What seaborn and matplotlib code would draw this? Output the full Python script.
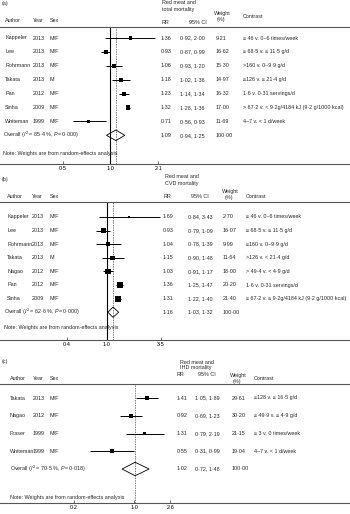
import numpy as np
import pandas as pd
import seaborn as sns
import matplotlib
matplotlib.use('Agg')
import matplotlib.pyplot as plt
from matplotlib.transforms import blended_transform_factory

sns.set_style("white")
plt.rcParams['font.family'] = ['Liberation Sans', 'DejaVu Sans']
plt.rcParams['mathtext.fontset'] = 'custom'
plt.rcParams['mathtext.rm'] = 'Liberation Sans'
plt.rcParams['mathtext.it'] = 'Liberation Sans:italic'

# (a) red meat and total mortality
a_author = ['Kappeler', 'Lee', 'Rohrmann', 'Takata', 'Pan', 'Sinha', 'Whiteman']
a_year = ['2013', '2013', '2013', '2013', '2012', '2009', '1999']
a_sex = ['M/F', 'M/F', 'M/F', 'M', 'M/F', 'M/F', 'M/F']
a_rr = [1.36, 0.93, 1.06, 1.18, 1.23, 1.32, 0.71]
a_lo = [0.92, 0.87, 0.93, 1.02, 1.14, 1.28, 0.56]
a_hi = [2.00, 0.99, 1.20, 1.36, 1.34, 1.36, 0.93]
a_weight = [9.21, 16.62, 15.30, 14.97, 16.32, 17.00, 11.69]
a_contrast = ['≥ 46 v. 0–6 times/week', '≥ 68·5 v. ≤ 11·5 g/d', '>160 v. 0–9·9 g/d',
              '≥126 v. ≤ 21·4 g/d', '1·6 v. 0·31 servings/d',
              '> 67·2 v. < 9·2g/4184 kJ (9·2 g/1000 kcal)', '4–7 v. < 1 d/week']
a_overall = [1.09, 0.94, 1.25]
a_het = ['85·4', '0·000']
a_ticks = [1 / 2.1, 1.0, 2.1]
a_ticklabels = ['0·5', '1·0', '2·1']

# (b) red meat and CVD mortality
b_author = ['Kappeler', 'Lee', 'Rohrmann', 'Takata', 'Nagao', 'Pan', 'Sinha']
b_year = ['2013', '2013', '2013', '2013', '2012', '2012', '2009']
b_sex = ['M/F', 'M/F', 'M/F', 'M', 'M/F', 'M/F', 'M/F']
b_rr = [1.69, 0.93, 1.04, 1.15, 1.03, 1.36, 1.31]
b_lo = [0.84, 0.79, 0.78, 0.90, 0.91, 1.25, 1.22]
b_hi = [3.43, 1.09, 1.39, 1.48, 1.17, 1.47, 1.40]
b_weight = [2.70, 16.07, 9.99, 11.64, 18.00, 20.20, 21.40]
b_contrast = ['≥ 46 v. 0–6 times/week', '≥ 68·5 v. ≤ 11·5 g/d', '≥160 v. 0–9·9 g/d',
              '>126 v. < 21·4 g/d', '> 49·4 v. < 4·9 g/d', '1·6 v. 0·31 servings/d',
              '≥ 67·2 v. ≤ 9·2g/4184 kJ (9·2 g/1000 kcal)']
b_overall = [1.16, 1.03, 1.32]
b_het = ['62·6', '0·000']
b_ticks = [0.4, 1.0, 3.5]
b_ticklabels = ['0·4', '1·0', '3·5']

# (c) red meat and IHD mortality
c_author = ['Takata', 'Nagao', 'Fraser', 'Whiteman']
c_year = ['2013', '2012', '1999', '1999']
c_sex = ['M/F', 'M/F', 'M/F', 'M/F']
c_rr = [1.41, 0.92, 1.31, 0.55]
c_lo = [1.05, 0.69, 0.79, 0.31]
c_hi = [1.89, 1.23, 2.19, 0.99]
c_weight = [29.61, 30.20, 21.15, 19.04]
c_contrast = ['≥128 v. ≤ 16·5 g/d', '≥ 49·9 v. ≤ 4·9 g/d', '≥ 3 v. 0 times/week',
              '4–7 v. < 1 d/week']
c_overall = [1.02, 0.72, 1.48]
c_het = ['70·5', '0·018']
c_ticks = [0.2, 1.0, 2.6]
c_ticklabels = ['0·2', '1·0', '2·6']

W, H = 350, 514
FS = 3.9
fig = plt.figure(figsize=(W / 100, H / 100), dpi=100)


def num(v):
    return f'{v:.2f}'.replace('.', '·')


def ftext(x, y, s, **kw):
    fig.text(x / W, 1 - y / H, s, fontsize=FS, va='center', ha='left', **kw)


def panel(df, overall, het, ticks, ticklabels, lay, nullline=True):
    top, bot, y0, step = lay['top'], lay['bot'], lay['row0'], lay['step']
    ax = fig.add_axes([0, 1 - bot / H, 1, (bot - top) / H])
    x0, xs = lay['x0'], lay['xs']
    ax.set_xscale('log')
    ax.set_xlim(np.exp(-x0 / xs), np.exp((W - x0) / xs))
    ax.set_ylim((bot - y0) / step, (top - y0) / step)
    n = len(df)
    df = df.assign(row=np.arange(n))

    ax.hlines(df['row'], df['lo'], df['hi'], color='black', lw=0.7, zorder=2)
    sns.scatterplot(data=df, x='rr', y='row', marker='s', color='black',
                    s=df['weight'] * lay['k'], linewidth=0, legend=False, ax=ax, zorder=3)
    if nullline:
        ax.axvline(1.0, color='black', lw=0.8, zorder=1)
    ax.axvline(overall[0], color='#444444', lw=0.5, ls=(0, (2, 1.5)), zorder=1)
    h = 0.38
    ax.fill([overall[1], overall[0], overall[2], overall[0]], [n, n - h, n, n + h],
            fill=False, edgecolor='black', lw=0.6, zorder=4)

    ax.set_xticks(ticks)
    ax.set_xticklabels(ticklabels)
    ax.minorticks_off()
    ax.set_yticks([])
    ax.tick_params(axis='x', direction='in', length=2.5, width=0.4, pad=1.5,
                   labelsize=FS, bottom=True, colors='black')
    ax.set_xlabel('')
    ax.set_ylabel('')
    for side in ['left', 'right']:
        ax.spines[side].set_visible(False)
    for side in ['top', 'bottom']:
        ax.spines[side].set_color('#555555')
        ax.spines[side].set_linewidth(0.8)
    ax.patch.set_alpha(0)

    tr = blended_transform_factory(fig.transFigure, ax.transData)
    c = lay['cols']
    kw = dict(transform=tr, fontsize=FS, va='center', ha='left')
    for _, r in df.iterrows():
        ax.text(c[0] / W, r['row'], r['author'], **kw)
        ax.text(c[1] / W, r['row'], r['year'], **kw)
        ax.text(c[2] / W, r['row'], r['sex'], **kw)
        ax.text(c[3] / W, r['row'], num(r['rr']), **kw)
        ax.text(c[4] / W, r['row'], num(r['lo']) + ', ' + num(r['hi']), **kw)
        ax.text(c[5] / W, r['row'], num(r['weight']), **kw)
        ax.text(c[6] / W, r['row'], r['contrast'], **kw)
    ax.text(lay['lab'] / W, n, r'Overall ($I^2$ = ' + het[0] + ' %, $P$= ' + het[1] + ')', **kw)
    ax.text(c[3] / W, n, num(overall[0]), **kw)
    ax.text(c[4] / W, n, num(overall[1]) + ', ' + num(overall[2]), **kw)
    ax.text(c[5] / W, n, '100·00', **kw)
    ax.text(lay['lab'] / W, (lay['note'] - y0) / step,
            'Note: Weights are from random-effects analysis', **kw)
    return ax


def frame(author, year, sex, rr, lo, hi, weight, contrast):
    return pd.DataFrame({'author': author, 'year': year, 'sex': sex, 'rr': rr,
                         'lo': lo, 'hi': hi, 'weight': weight, 'contrast': contrast})


# panel (a)
lay_a = dict(top=27, bot=164, row0=38, step=13.9, note=154, x0=110.4, xs=64.4, k=0.55,
             cols=[5, 33, 50, 161, 180, 216, 243], lab=3)
panel(frame(a_author, a_year, a_sex, a_rr, a_lo, a_hi, a_weight, a_contrast),
      a_overall, a_het, a_ticks, a_ticklabels, lay_a)
ftext(2, 4, '(a)')
ftext(162, 3, 'Red meat and')
ftext(162, 9, 'total mortality')
for x, s in [(5, 'Author'), (33, 'Year'), (50, 'Sex')]:
    ftext(x, 20, s)
ftext(161, 22, 'RR')
ftext(189, 22, '95% CI')
ftext(214, 13, 'Weight')
ftext(217, 19, '(%)')
ftext(243, 17, 'Contrast')

# panel (b)
lay_b = dict(top=202, bot=340, row0=217, step=13.6, note=327, x0=106.6, xs=43.4, k=0.9,
             cols=[7, 32, 50, 163, 188, 223, 246], lab=4)
panel(frame(b_author, b_year, b_sex, b_rr, b_lo, b_hi, b_weight, b_contrast),
      b_overall, b_het, b_ticks, b_ticklabels, lay_b)
ftext(2, 179, '(b)')
ftext(165, 177, 'Red meat and')
ftext(165, 183, 'CVD mortality')
for x, s in [(7, 'Author'), (32, 'Year'), (50, 'Sex'), (163, 'RR'), (191, '95% CI'),
             (246, 'Contrast')]:
    ftext(x, 197, s)
ftext(222, 192, 'Weight')
ftext(225, 198, '(%)')

# panel (c)
lay_c = dict(top=384, bot=503, row0=398, step=17.75, note=497, x0=134.4, xs=37.5, k=0.34,
             cols=[10, 33, 50, 177, 195, 232, 254], lab=10)
panel(frame(c_author, c_year, c_sex, c_rr, c_lo, c_hi, c_weight, c_contrast),
      c_overall, c_het, c_ticks, c_ticklabels, lay_c, nullline=False)
ftext(2, 362, '(c)')
ftext(180, 362, 'Red meat and')
ftext(180, 368, 'IHD mortality')
for x, s in [(10, 'Author'), (33, 'Year'), (50, 'Sex')]:
    ftext(x, 378, s)
ftext(177, 374, 'RR')
ftext(198, 374, '95% CI')
ftext(230, 376, 'Weight')
ftext(233, 382, '(%)')
ftext(254, 378, 'Contrast')

fig.savefig('out.png', dpi=100)
